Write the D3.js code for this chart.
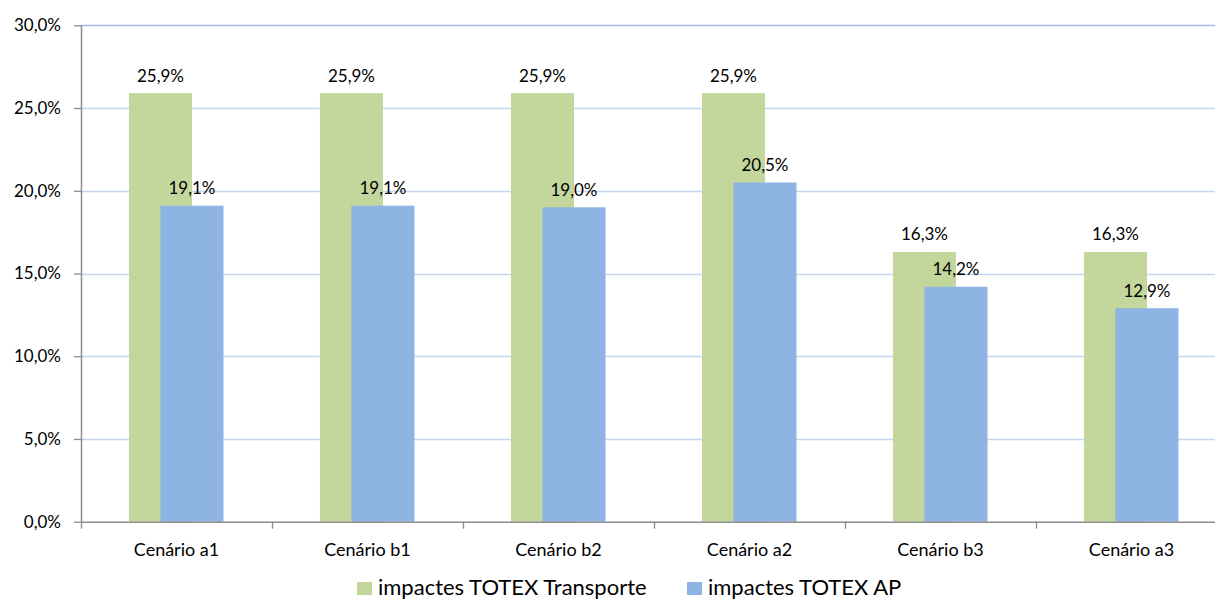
<!DOCTYPE html>
<html>
<head>
<meta charset="utf-8">
<script src="https://cdn.jsdelivr.net/npm/d3@7"></script>
<style>
  html, body { margin: 0; padding: 0; background: #fff; overflow: hidden; }
  svg { display: block; font-family: Lato, "Open Sans", sans-serif; }
</style>
</head>
<body>
<svg id="chart" width="1215" height="600"></svg>
<script>
// Scenario categories and the two impact series (percent)
const categories = ["Cenário a1", "Cenário b1", "Cenário b2", "Cenário a2", "Cenário b3", "Cenário a3"];
const transporte = [25.9, 25.9, 25.9, 25.9, 16.3, 16.3];
const totexAP = [19.1, 19.1, 19.0, 20.5, 14.2, 12.9];
const seriesNames = ["impactes TOTEX Transporte", "impactes TOTEX AP"];
const yTicks = [0, 5, 10, 15, 20, 25, 30];

const colors = ["#c3d69b", "#8eb4e3"];
const fmt = v => d3.format(".1f")(v).replace(".", ",") + "%";

const svg = d3.select("#chart");
const plotLeft = 81, plotTop = 25.3, plotBottom = 521.7, step = 191;

const x = d3.scaleBand()
  .domain(categories)
  .range([plotLeft, plotLeft + step * categories.length])
  .paddingInner(0).paddingOuter(0);

const y = d3.scaleLinear().domain([0, 30]).range([plotBottom, plotTop]);

// Horizontal gridlines
svg.append("g").selectAll("line")
  .data(yTicks.filter(t => t > 0))
  .join("line")
  .attr("x1", plotLeft).attr("x2", 1215)
  .attr("y1", d => Math.round(y(d)) + 0.5).attr("y2", d => Math.round(y(d)) + 0.5)
  .attr("stroke", d => d === 30 ? "#a9bde9" : "#c6d6f0")
  .attr("stroke-width", d => d === 30 ? 1.6 : 1.3);

// Bars: 150% gap width with 50% overlap
const bw = x.bandwidth() * 0.33;
const offsets = [x.bandwidth() * 0.251, x.bandwidth() * 0.251 + bw * 0.5];
const series = [transporte, totexAP];

series.forEach((vals, si) => {
  svg.append("g").selectAll("rect")
    .data(vals)
    .join("rect")
    .attr("x", (d, i) => x(categories[i]) + offsets[si])
    .attr("width", bw)
    .attr("y", d => y(d))
    .attr("height", d => y(0) - y(d))
    .attr("fill", colors[si]);
});

// Value labels above bars
series.forEach((vals, si) => {
  svg.append("g").selectAll("text")
    .data(vals)
    .join("text")
    .attr("x", (d, i) => x(categories[i]) + offsets[si] + bw / 2)
    .attr("y", d => y(d) - 11.5)
    .attr("text-anchor", "middle")
    .attr("font-size", 17)
    .attr("fill", "#000")
    .text(d => fmt(d));
});

// Y axis
const yAxis = d3.axisLeft(y).tickValues(yTicks).tickFormat(d => fmt(d)).tickSize(7).tickPadding(13);
const gy = svg.append("g").attr("transform", `translate(${plotLeft},0)`).call(yAxis);
gy.select(".domain").attr("stroke", "#8c8c8c").attr("stroke-width", 1.5).attr("d", `M0.5,${plotTop}V${plotBottom}`);
gy.selectAll(".tick line").attr("stroke", "#8c8c8c").attr("stroke-width", 1.3);
gy.selectAll(".tick text").attr("font-size", 17).attr("fill", "#000").attr("font-family", "Lato, 'Open Sans', sans-serif");

// X axis
const gx = svg.append("g").attr("transform", `translate(0,${plotBottom})`);
gx.append("line")
  .attr("x1", plotLeft).attr("x2", 1215).attr("y1", 0.5).attr("y2", 0.5)
  .attr("stroke", "#8c8c8c").attr("stroke-width", 1.5);
gx.selectAll("line.tick")
  .data(categories)
  .join("line")
  .attr("class", "tick")
  .attr("x1", d => x(d) + 0.5).attr("x2", d => x(d) + 0.5)
  .attr("y1", 0).attr("y2", 7)
  .attr("stroke", "#8c8c8c").attr("stroke-width", 1.3);
gx.selectAll("text")
  .data(categories)
  .join("text")
  .attr("x", d => x(d) + x.bandwidth() / 2)
  .attr("y", 34)
  .attr("text-anchor", "middle")
  .attr("font-size", 18)
  .attr("fill", "#000")
  .text(d => d);

// Legend
const legendX = [357, 687];
const lg = svg.append("g");
seriesNames.forEach((name, i) => {
  lg.append("rect").attr("x", legendX[i]).attr("y", 582).attr("width", 15).attr("height", 13).attr("fill", colors[i]);
  lg.append("text").attr("x", legendX[i] + 21).attr("y", 595)
    .attr("font-size", 22).attr("fill", "#000").text(name);
});
</script>
</body>
</html>
